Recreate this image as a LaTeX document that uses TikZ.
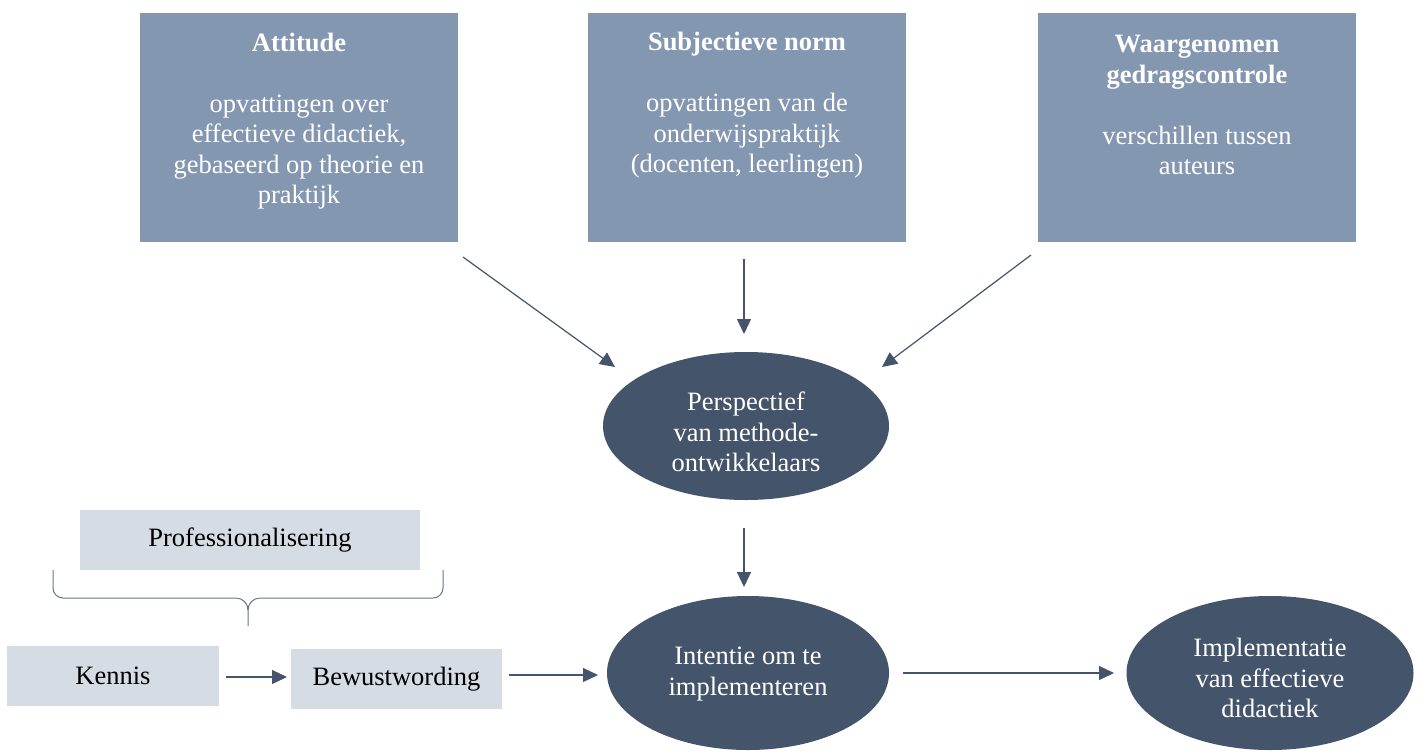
\documentclass[tikz,border=0pt]{standalone}
\usepackage{fontspec}
\setmainfont{Liberation Serif}
\usetikzlibrary{arrows.meta,shapes.geometric}
\definecolor{darkblue}{HTML}{44546A}
\definecolor{midblue}{HTML}{8497B0}
\definecolor{lightblue}{HTML}{D6DCE4}
\tikzset{
  topbox/.style={rectangle, fill=midblue, minimum width=318pt, minimum height=229pt, inner sep=0pt},
  toptext/.style={text=white, align=center, font=\fontsize{26.5}{30.5}\selectfont, inner sep=0pt},
  lightbox/.style={rectangle, fill=lightblue, minimum height=60pt, inner sep=0pt, font=\fontsize{26.5}{30.5}\selectfont},
  darkell/.style={ellipse, fill=darkblue, inner sep=0pt},
  elltext/.style={text=white, align=center, inner sep=0pt, font=\fontsize{26.5}{30.5}\selectfont},
  arr/.style={draw=darkblue, line width=1.2pt, -{Triangle[length=15pt,width=14pt]}},
  bracestyle/.style={draw=darkblue!80, line width=1pt}
}
\begin{document}
\begin{tikzpicture}[x=1pt,y=-1pt]
\useasboundingbox[fill=white] (0,0) rectangle (1419,753);

% top boxes
\node[topbox] (att) at (299,127.5) {};
\node[toptext] (attT) at (299,121) {\textbf{Attitude}\\[30.5pt]opvattingen over\\effectieve didactiek,\\gebaseerd op theorie en\\praktijk};
\node[topbox] (sub) at (747,127) {};
\node[toptext] (subT) at (747,105.5) {\textbf{Subjectieve norm}\\[30.5pt]opvattingen van de\\onderwijspraktijk\\(docenten, leerlingen)};
\node[topbox] (waa) at (1197,127) {};
\node[toptext] (waaT) at (1197,105) {\textbf{Waargenomen}\\\textbf{gedragscontrole}\\[30.5pt]verschillen tussen\\auteurs};

% ellipses
\node[darkell, minimum width=286pt, minimum height=148pt] (per) at (746,426) {};
\node[elltext] (perT) at (746,432) {Perspectief\\van methode-\\ontwikkelaars};
\node[darkell, minimum width=282pt, minimum height=154pt] (int) at (748,673) {};
\node[elltext] (intT) at (748,674) {Intentie om te\\implementeren};
\node[darkell, minimum width=287pt, minimum height=154pt] (imp) at (1270,673) {};
\node[elltext] (impT) at (1270,678) {Implementatie\\van effectieve\\didactiek};

% light boxes
\node[lightbox, minimum width=340pt] (pro) at (250,540) {Professionalisering};
\node[lightbox, minimum width=212pt] (ken) at (113,676) {Kennis};
\node[lightbox, minimum width=211pt] (bew) at (396.5,679) {Bewustwording};

% arrow endpoints
\coordinate (a1s) at (463,257);
\coordinate (a1e) at (615,367);
\coordinate (a2s) at (744,259);
\coordinate (a2e) at (744,334);
\coordinate (a3s) at (1031,255);
\coordinate (a3e) at (882,367);
\coordinate (a4s) at (744,528);
\coordinate (a4e) at (744,587);
\coordinate (a5s) at (226,677);
\coordinate (a5e) at (287,677);
\coordinate (a6s) at (509,675);
\coordinate (a6e) at (598,675);
\coordinate (a7s) at (903,673);
\coordinate (a7e) at (1114,673);

\draw[arr] (a1s) -- (a1e);
\draw[arr] (a2s) -- (a2e);
\draw[arr] (a3s) -- (a3e);
\draw[arr] (a4s) -- (a4e);
\draw[arr] (a5s) -- (a5e);
\draw[arr] (a6s) -- (a6e);
\draw[arr] (a7s) -- (a7e);

% brace
\coordinate (bl) at (53,570);
\coordinate (br) at (443,570);
\coordinate (bt) at (248,626);
\draw[bracestyle] (bl) -- (53,588) to[out=-90,in=180] (63,598) -- (236,598) to[out=0,in=90] (248,610) -- (bt);
\draw[bracestyle] (248,610) to[out=90,in=180] (260,598) -- (433,598) to[out=0,in=-90] (443,588) -- (br);
\end{tikzpicture}
\end{document}
